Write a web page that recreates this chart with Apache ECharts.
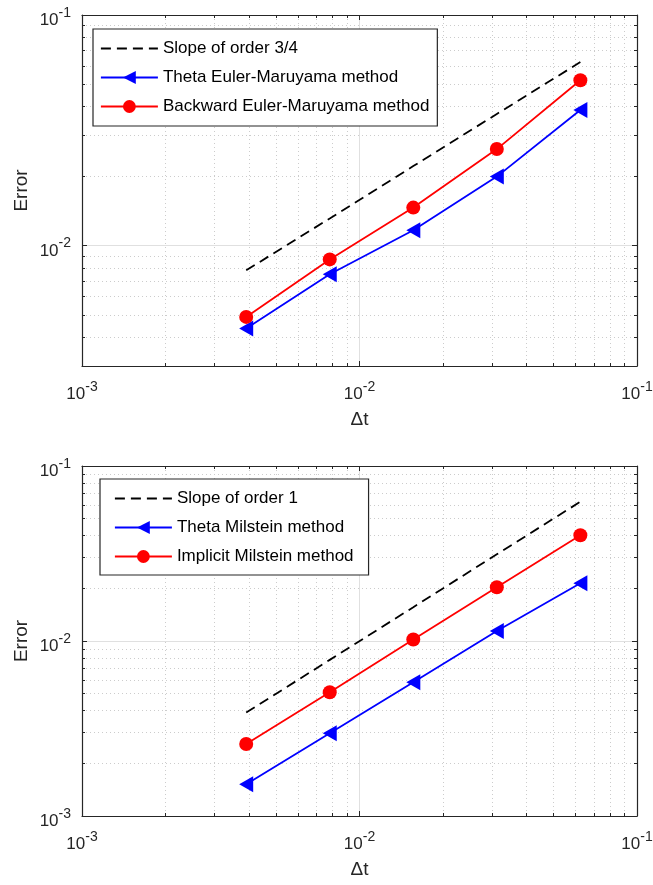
<!DOCTYPE html>
<html>
<head>
<meta charset="utf-8">
<title>Error vs step size</title>
<script src="https://cdn.jsdelivr.net/npm/echarts@6/dist/echarts.min.js"></script>
<style>
  html, body { margin: 0; padding: 0; background: #ffffff; }
  #chart { width: 653px; height: 885px; }
</style>
</head>
<body>
<div id="chart"></div>
<script>
// step sizes 1/256 ... 1/16
const dt = [0.00390625, 0.0078125, 0.015625, 0.03125, 0.0625];

// top panel
const slopeThreeQuarter = [0.0078, 0.0131, 0.0221, 0.0372, 0.0625];
const thetaEM = [0.00436, 0.0075, 0.01165, 0.0199, 0.0387];
const backwardEM = [0.0049, 0.0087, 0.0146, 0.0262, 0.0521];

// bottom panel
const slopeOne = [0.0039, 0.0078, 0.0156, 0.0313, 0.0625];
const thetaMilstein = [0.00152, 0.00297, 0.00581, 0.0114, 0.0214];
const implicitMilstein = [0.00258, 0.00509, 0.0102, 0.0203, 0.0402];

// legend names
const namesTop = ["Slope of order 3/4", "Theta Euler-Maruyama method", "Backward Euler-Maruyama method"];
const namesBottom = ["Slope of order 1", "Theta Milstein method", "Implicit Milstein method"];

// ticks
const xMajor = [0.001, 0.01, 0.1];
const xMinor = [0.002, 0.003, 0.004, 0.005, 0.006, 0.007, 0.008, 0.009,
  0.02, 0.03, 0.04, 0.05, 0.06, 0.07, 0.08, 0.09];
const yMajorTop = [0.01, 0.1];
const yMinorTop = [0.003, 0.004, 0.005, 0.006, 0.007, 0.008, 0.009,
  0.02, 0.03, 0.04, 0.05, 0.06, 0.07, 0.08, 0.09];
const yMajorBottom = [0.001, 0.01, 0.1];
const yMinorBottom = xMinor;

const FONT = "'Liberation Sans', Arial, Helvetica, sans-serif";
const AXIS_COLOR = "#262626";
const LINE_W = 1.8;

const pairs = (xs, ys) => xs.map((x, i) => [x, ys[i]]);

function powLabel(v) {
  const e = Math.round(Math.log10(v));
  return "{b|10}{s|" + e + "}";
}

const richLabel = {
  b: { fontSize: 17, lineHeight: 29, fontFamily: FONT, color: AXIS_COLOR },
  s: { fontSize: 14, lineHeight: 14, verticalAlign: "top", fontFamily: FONT, color: AXIS_COLOR },
};

// one log axis layer (main side with labels, minor layer, or opposite side)
function logAxis(dim, grid, position, min, max, values, opt) {
  const isX = dim === "x";
  const axis = {
    type: "log",
    logBase: 10,
    gridIndex: grid,
    position: position,
    min: min,
    max: max,
    axisLine: { show: !!opt.line, onZero: false, lineStyle: { color: AXIS_COLOR, width: 1.2 } },
    axisTick: {
      show: true,
      inside: true,
      length: opt.tickLen,
      customValues: values,
      lineStyle: { color: AXIS_COLOR, width: 1 },
    },
    axisLabel: { show: false },
    splitLine: { show: false },
    silent: true,
  };
  if (opt.labels) {
    axis.axisLabel = {
      show: true,
      customValues: values,
      formatter: powLabel,
      rich: richLabel,
      margin: isX ? 14 : 11,
      padding: isX ? 0 : [11, 0, 0, 0],
    };
    axis.name = isX ? "{n|Δt}" : "{n|Error}";
    axis.nameLocation = "middle";
    axis.nameGap = isX ? 44 : 51;
    axis.nameMoveOverlap = false;
    axis.nameTextStyle = {
      fontSize: 19,
      fontFamily: FONT,
      color: AXIS_COLOR,
      rich: { n: { fontSize: 19, lineHeight: 19, fontFamily: FONT, color: AXIS_COLOR } },
    };
  }
  if (opt.grid) {
    axis.splitLine = {
      show: true,
      lineStyle: opt.grid === "major"
        ? { color: "#e0e0e0", width: 1, type: "solid" }
        : { color: "#cccccc", width: 1, type: [1, 3] },
    };
  }
  return axis;
}

function axesFor(dim, grid, min, max, major, minor) {
  const near = dim === "x" ? "bottom" : "left";
  const far = dim === "x" ? "top" : "right";
  return [
    logAxis(dim, grid, near, min, max, major, { line: true, tickLen: 5, labels: true, grid: "major" }),
    logAxis(dim, grid, near, min, max, minor, { line: false, tickLen: 3, grid: "minor" }),
    logAxis(dim, grid, far, min, max, major, { line: true, tickLen: 5 }),
    logAxis(dim, grid, far, min, max, minor, { line: false, tickLen: 3 }),
  ];
}

function panelSeries(axisIndex, names, slope, blue, red) {
  return [
    {
      name: names[0],
      type: "line",
      xAxisIndex: axisIndex,
      yAxisIndex: axisIndex,
      data: pairs(dt, slope),
      symbol: "none",
      lineStyle: { color: "#000000", width: LINE_W, type: [10, 6] },
      itemStyle: { color: "#000000" },
      z: 3,
    },
    {
      name: names[1],
      type: "line",
      xAxisIndex: axisIndex,
      yAxisIndex: axisIndex,
      data: pairs(dt, blue),
      symbol: "triangle",
      symbolRotate: 90,
      symbolSize: [16, 14],
      lineStyle: { color: "#0000ff", width: LINE_W },
      itemStyle: { color: "#0000ff" },
      z: 3,
    },
    {
      name: names[2],
      type: "line",
      xAxisIndex: axisIndex,
      yAxisIndex: axisIndex,
      data: pairs(dt, red),
      symbol: "circle",
      symbolSize: 14,
      lineStyle: { color: "#ff0000", width: LINE_W },
      itemStyle: { color: "#ff0000" },
      z: 3,
    },
  ];
}

function panelLegend(names, left, top, padding) {
  return {
    orient: "vertical",
    left: left,
    top: top,
    padding: padding,
    itemWidth: 57,
    itemHeight: 16,
    itemGap: 12,
    selectedMode: false,
    backgroundColor: "#ffffff",
    borderColor: AXIS_COLOR,
    borderWidth: 1.2,
    borderRadius: 0,
    lineStyle: { width: LINE_W },
    textStyle: { fontSize: 17, fontFamily: FONT, color: "#000000" },
    data: [
      { name: names[0], itemStyle: { opacity: 0 } },
      { name: names[1] },
      { name: names[2] },
    ],
  };
}

const chart = echarts.init(document.getElementById("chart"), null, { renderer: "canvas" });

chart.setOption({
  animation: false,
  backgroundColor: "#ffffff",
  textStyle: { fontFamily: FONT },
  grid: [
    { left: 82, top: 15, width: 555, height: 351, containLabel: false, outerBoundsMode: "none" },
    { left: 82, top: 466, width: 555, height: 350, containLabel: false, outerBoundsMode: "none" },
  ],
  xAxis: [
    ...axesFor("x", 0, 0.001, 0.1, xMajor, xMinor),
    ...axesFor("x", 1, 0.001, 0.1, xMajor, xMinor),
  ],
  yAxis: [
    ...axesFor("y", 0, 0.003, 0.1, yMajorTop, yMinorTop),
    ...axesFor("y", 1, 0.001, 0.1, yMajorBottom, yMinorBottom),
  ],
  legend: [
    panelLegend(namesTop, 93, 29, [11, 8, 11, 7]),
    panelLegend(namesBottom, 100, 479, [11, 15, 10, 14]),
  ],
  series: [
    ...panelSeries(0, namesTop, slopeThreeQuarter, thetaEM, backwardEM),
    ...panelSeries(4, namesBottom, slopeOne, thetaMilstein, implicitMilstein),
  ],
});
</script>
</body>
</html>
